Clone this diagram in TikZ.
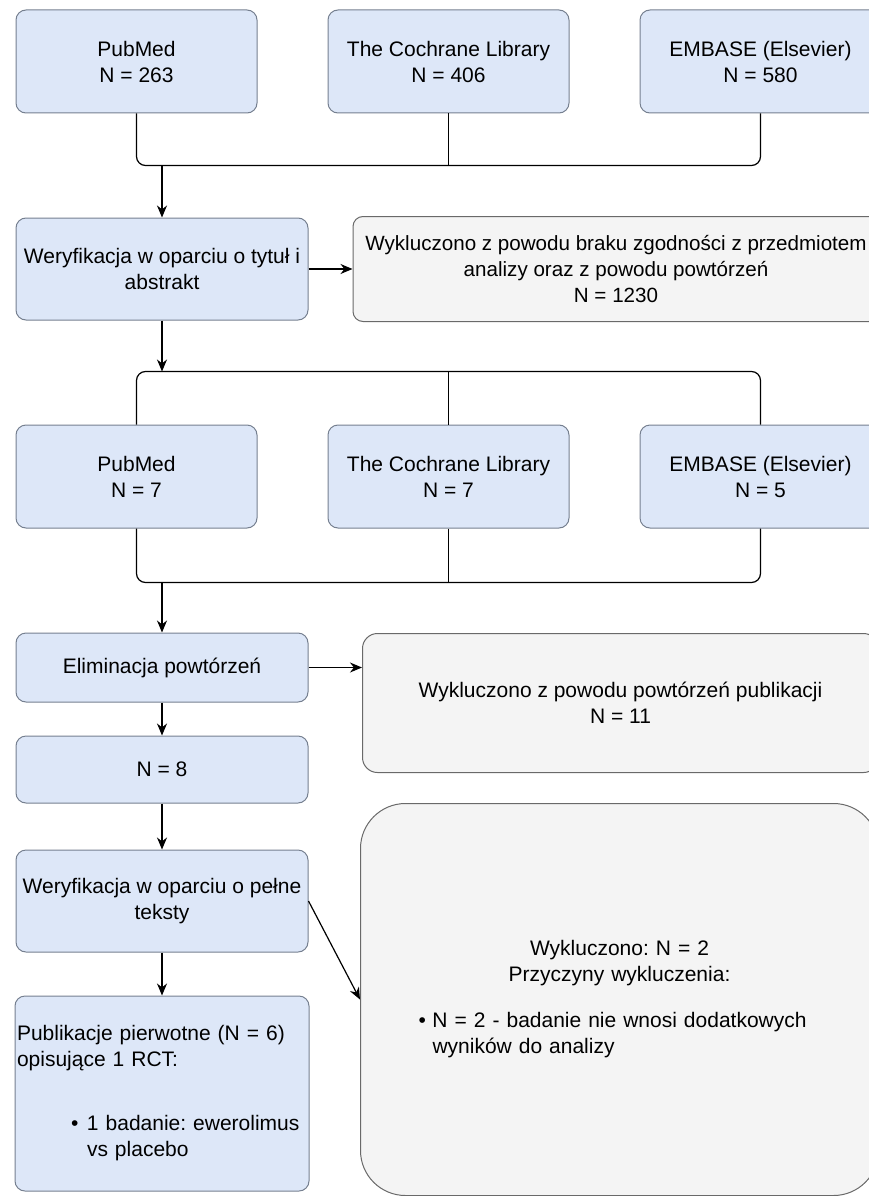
\documentclass[tikz,border=0pt]{standalone}
\usepackage{fontspec}
\setmainfont{Liberation Sans}
\usepackage{xcolor}
\definecolor{BoxBlue}{RGB}{221,231,248}
\definecolor{BoxEdge}{RGB}{118,128,144}
\definecolor{ExclGray}{RGB}{244,244,244}
\definecolor{ExclEdge}{RGB}{105,105,105}
\usetikzlibrary{positioning,arrows.meta}

\begin{document}
\begin{tikzpicture}[x=1pt, y=-1pt,
    base/.style={rectangle, line width=1pt, inner sep=2pt, align=center,
                 font=\fontsize{21}{26}\selectfont\frenchspacing},
    srcbox/.style={base, draw=BoxEdge, fill=BoxBlue, rounded corners=10pt,
                   minimum width=241pt, minimum height=103pt},
    flowbox/.style={base, draw=BoxEdge, fill=BoxBlue, rounded corners=10pt,
                    minimum width=292pt},
    exclbox/.style={base, draw=ExclEdge, fill=ExclGray},
    link/.style={line width=1.2pt, rounded corners=9pt},
    arrow/.style={-{Stealth[length=12pt, width=10pt]}, line width=1.2pt}
]
    \useasboundingbox (0,0) rectangle (868,1196);

    % first search
    \node[srcbox] (pm1) at (136.5,61.5) {PubMed\\N = 263};
    \node[srcbox, right=70pt of pm1] (cl1) {The Cochrane Library\\N = 406};
    \node[srcbox, right=70pt of cl1] (em1) {EMBASE (Elsevier)\\N = 580};

    \node[flowbox, minimum height=102pt] (ver1) at (162,269)
        {Weryfikacja w oparciu o tytuł i\\abstrakt};
    \node[exclbox, rounded corners=10pt, minimum width=526pt, minimum height=105pt,
          font=\fontsize{20.6}{26}\selectfont, right=44pt of ver1] (exc1)
        {Wykluczono z powodu braku zgodności z przedmiotem\\analizy oraz z powodu powtórzeń\\N = 1230};

    % second search
    \node[srcbox] (pm2) at (136.5,476.5) {PubMed\\N = 7};
    \node[srcbox, right=70pt of pm2] (cl2) {The Cochrane Library\\N = 7};
    \node[srcbox, right=70pt of cl2] (em2) {EMBASE (Elsevier)\\N = 5};

    \node[flowbox, minimum height=69pt] (elim) at (162,667.5) {Eliminacja powtórzeń};
    \node[flowbox, minimum height=67pt, below=33pt of elim] (n8) {N = 8};
    \node[flowbox, minimum height=102pt, below=46pt of n8] (ver2)
        {Weryfikacja w oparciu o pełne\\teksty};
    \node[flowbox, minimum height=195pt, text width=290pt, align=left,
          below=43pt of ver2] (pub)
        {Publikacje pierwotne (N = 6)\\opisujące 1 RCT:\par\vspace{38pt}
         \leftskip=70pt\leavevmode\llap{\makebox[16pt][l]{\textbullet}}1 badanie: ewerolimus\newline vs placebo\par};

    \node[exclbox, rounded corners=15pt, minimum width=516pt, minimum height=139pt,
          anchor=north west] (exc2) at (362,633)
        {Wykluczono z powodu powtórzeń publikacji\\N = 11};
    \node[exclbox, rounded corners=45pt, minimum width=518pt, minimum height=392pt,
          text width=402pt, anchor=north west] (exc3) at (360,803)
        {{\centering Wykluczono: N = 2\\Przyczyny wykluczenia:\par}\vspace{20pt}
         {\raggedright\leftskip=14pt\leavevmode\llap{\makebox[14pt][l]{\textbullet}}N = 2 - badanie nie wnosi dodatkowych\newline wyników do analizy\par}\vspace{16pt}};

    % junctions
    \coordinate[below=52pt of cl1.south] (j1);
    \coordinate[above=53pt of cl2.north] (j2);
    \coordinate[below=54pt of cl2.south] (j3);

    \draw[link] (pm1.south) |- (j1) -| (em1.south);
    \draw[link] (cl1.south) -- (j1);
    \draw[arrow] (ver1.north |- j1) -- (ver1.north);
    \draw[arrow] (ver1.east) -- (exc1.west);

    \draw[arrow] (ver1.south) -- (ver1.south |- j2);
    \draw[link] (pm2.north) |- (j2) -| (em2.north);
    \draw[link] (cl2.north) -- (j2);

    \draw[link] (pm2.south) |- (j3) -| (em2.south);
    \draw[link] (cl2.south) -- (j3);
    \draw[arrow] (elim.north |- j3) -- (elim.north);

    \draw[arrow] (elim.east) -- (elim.east -| exc2.west);
    \draw[arrow] (elim) -- (n8);
    \draw[arrow] (n8) -- (ver2);
    \draw[arrow] (ver2) -- (pub);
    \draw[arrow] (ver2.east) -- (exc3.west);
\end{tikzpicture}
\end{document}
